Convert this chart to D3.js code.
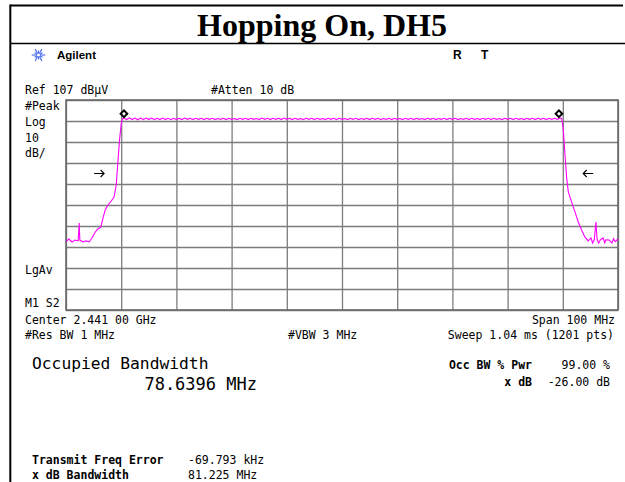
<!DOCTYPE html>
<html>
<head>
<meta charset="utf-8">
<script src="https://cdn.jsdelivr.net/npm/d3@7"></script>
<style>
  body { margin: 0; background: #fff; }
  svg { display: block; }
  .scr { font-family: "DejaVu Sans Mono", monospace; font-size: 11.5px; fill: #000; }
  .bold { font-weight: bold; }
</style>
</head>
<body>
<div id="chart"></div>
<script>
// analyzer settings
var centerMHz = 2441, spanMHz = 100;
var refDb = 107, dbPerDiv = 10, divisions = 10;

// trace: left skirt (MHz, dBuV)
var leftFreq = [2391.0, 2391.5, 2392.1, 2392.6, 2393.2, 2393.4, 2393.5, 2394.1, 2394.6, 2395.2,
  2395.7, 2396.3, 2396.8, 2397.3, 2397.7, 2398.1, 2398.6, 2399.2, 2399.7, 2400.1, 2400.4, 2400.7, 2401.0, 2401.2];
var leftDb = [39.6, 40.8, 39.4, 40.3, 39.9, 48.4, 40.3, 39.4, 39.9, 39.4,
  41.3, 44.1, 45.6, 46.5, 50.8, 54.6, 57.0, 58.9, 60.8, 66.5, 77.5, 88.0, 95.6, 97.9];

// flat top of the hopping band, 0.5 MHz per sample from 2401.5 MHz
var topStart = 2401.5, topStep = 0.5;
var topDb = [
  98.4, 97.7, 98.5, 97.7, 98.4, 97.6, 98.4, 97.7, 98.4, 97.7,
  98.4, 97.7, 98.3, 97.7, 98.4, 97.7, 98.3, 97.6, 98.3, 97.7,
  98.3, 97.7, 98.4, 97.8, 98.3, 97.7, 98.3, 97.8, 98.3, 97.7,
  98.3, 97.8, 98.3, 97.7, 98.2, 97.8, 98.3, 97.7, 98.3, 97.8,
  98.2, 97.7, 98.3, 97.8, 98.3, 97.7, 98.3, 97.8, 98.2, 97.7,
  98.4, 97.8, 98.3, 97.7, 98.3, 97.8, 98.3, 97.7, 98.4, 97.8,
  98.3, 97.7, 98.3, 97.8, 98.2, 97.7, 98.3, 97.8, 98.3, 97.7,
  98.3, 97.8, 98.2, 97.7, 98.3, 97.8, 98.3, 97.7, 98.3, 97.8,
  98.2, 97.7, 98.3, 97.8, 98.3, 97.7, 98.2, 97.8, 98.3, 97.7,
  98.3, 97.8, 98.3, 97.7, 98.2, 97.8, 98.3, 97.7, 98.3, 97.8,
  98.2, 97.7, 98.3, 97.8, 98.3, 97.7, 98.3, 97.8, 98.2, 97.7,
  98.3, 97.8, 98.3, 97.7, 98.2, 97.8, 98.3, 97.7, 98.3, 97.8,
  98.3, 97.7, 98.2, 97.8, 98.3, 97.7, 98.3, 97.8, 98.2, 97.7,
  98.3, 97.8, 98.3, 97.7, 98.3, 97.8, 98.2, 97.7, 98.3, 97.8,
  98.3, 97.7, 98.3, 97.8, 98.2, 97.7, 98.3, 97.8, 98.3, 97.7,
  98.3, 97.8, 98.3, 97.7, 98.3, 97.8, 98.3, 97.8, 98.3];

// right skirt
var rightFreq = [2480.8, 2481.1, 2481.4, 2481.7, 2482.0, 2482.6, 2483.2, 2483.8, 2484.4, 2485.0,
  2485.6, 2486.1, 2486.4, 2486.7, 2487.0, 2487.2, 2487.5, 2487.8, 2488.3, 2488.6, 2488.8, 2489.4, 2489.9, 2490.2, 2490.5, 2491.0];
var rightDb = [98.3, 92.7, 80.8, 69.9, 63.2, 58.4, 53.7, 48.9, 45.1, 41.8,
  39.9, 41.3, 38.9, 40.4, 48.9, 40.8, 38.8, 40.4, 41.3, 39.0, 40.4, 40.3, 38.9, 40.9, 39.6, 40.8];

// markers and x dB arrows
var markerFreq = [2401.5, 2480.3];
var markerDb = [98.3, 98.3];
var xdbFreq = [2397.0, 2485.6];
var xdbLevel = 72;

var width = 625, height = 482;

var svg = d3.select('#chart').append('svg')
  .attr("width", width)
  .attr("height", height);

// page frame + title
svg.append("line").attr("x1", 10).attr("x2", 623).attr("y1", 5.5).attr("y2", 5.5)
  .attr("stroke", "#000").attr("stroke-width", 2);
svg.append("line").attr("x1", 10.3).attr("x2", 10.3).attr("y1", 4.5).attr("y2", height)
  .attr("stroke", "#000").attr("stroke-width", 2);
svg.append("line").attr("x1", 10).attr("x2", 625).attr("y1", 43.5).attr("y2", 43.5)
  .attr("stroke", "#000").attr("stroke-width", 1.5);
svg.append("text")
  .attr("x", 322).attr("y", 36)
  .attr("text-anchor", "middle")
  .style("font-family", "'Liberation Serif', 'Times New Roman', serif")
  .style("font-weight", "bold")
  .style("font-size", "32px")
  .text("Hopping On, DH5");

// agilent spark
var spark = svg.append("g").attr("transform", "translate(38.5,55)");
d3.range(12).forEach(function(i) {
  var a = i * Math.PI / 6, r = i % 2 ? 4.5 : 6.8;
  spark.append("line")
    .attr("x1", Math.cos(a) * 1.5).attr("y1", Math.sin(a) * 1.5)
    .attr("x2", Math.cos(a) * r).attr("y2", Math.sin(a) * r)
    .attr("stroke", "#4466ee").attr("stroke-width", 1.1);
});
svg.append("text").attr("x", 57).attr("y", 59)
  .style("font-family", "'Liberation Sans', Arial, sans-serif")
  .style("font-weight", "bold").style("font-size", "11.5px")
  .text("Agilent");
svg.append("text").attr("x", 453).attr("y", 58.5)
  .style("font-family", "'Liberation Sans', Arial, sans-serif")
  .style("font-weight", "bold").style("font-size", "12px")
  .text("R");
svg.append("text").attr("x", 481).attr("y", 58.5)
  .style("font-family", "'Liberation Sans', Arial, sans-serif")
  .style("font-weight", "bold").style("font-size", "12px")
  .text("T");

// graticule
var gx0 = 66, gx1 = 618, gy0 = 100, gy1 = 310;
var x = d3.scaleLinear()
  .domain([centerMHz - spanMHz / 2, centerMHz + spanMHz / 2])
  .range([gx0, gx1]);
var y = d3.scaleLinear()
  .domain([refDb - dbPerDiv * divisions, refDb])
  .range([gy1, gy0]);

var xGrid = d3.range(divisions + 1).map(function(i) { return x.domain()[0] + i * spanMHz / divisions; });
var yGrid = d3.range(divisions + 1).map(function(i) { return refDb - i * dbPerDiv; });

var grid = svg.append("g").attr("class", "grid");
grid.append("g")
  .attr("transform", "translate(0," + gy1 + ")")
  .call(d3.axisBottom(x).tickValues(xGrid).tickSize(-(gy1 - gy0)).tickFormat(""));
grid.append("g")
  .attr("transform", "translate(" + gx0 + ",0)")
  .call(d3.axisLeft(y).tickValues(yGrid).tickSize(-(gx1 - gx0)).tickFormat(""));
grid.selectAll(".domain").remove();
grid.selectAll(".tick line").attr("stroke", "#7c7c7c").attr("stroke-width", 1.3);
svg.append("rect")
  .attr("x", gx0).attr("y", gy0)
  .attr("width", gx1 - gx0).attr("height", gy1 - gy0)
  .attr("fill", "none").attr("stroke", "#6a6a6a").attr("stroke-width", 1.6);

// trace
var trace = [];
leftFreq.forEach(function(f, i) { trace.push([f, leftDb[i]]); });
topDb.forEach(function(v, i) { trace.push([topStart + i * topStep, v]); });
rightFreq.forEach(function(f, i) { trace.push([f, rightDb[i]]); });

svg.append("path")
  .datum(trace)
  .attr("fill", "none")
  .attr("stroke", "#ff00ff")
  .attr("stroke-width", 1.1)
  .attr("d", d3.line().x(function(d) { return x(d[0]); }).y(function(d) { return y(d[1]); }));

// markers
svg.selectAll(".mk")
  .data(markerFreq)
  .enter().append("path")
    .attr("class", "mk")
    .attr("d", d3.symbol().type(d3.symbolSquare).size(22))
    .attr("transform", function(d, i) { return "translate(" + x(d) + "," + (y(markerDb[i]) - 4.5) + ") rotate(45)"; })
    .attr("fill", "#fff").attr("stroke", "#000").attr("stroke-width", 2);

// x dB arrows, pointing in toward the band
svg.selectAll(".arr")
  .data(xdbFreq)
  .enter().append("path")
    .attr("class", "arr")
    .attr("transform", function(d, i) {
      return "translate(" + x(d) + "," + y(xdbLevel) + ")" + (i === 0 ? "" : " scale(-1,1)");
    })
    .attr("d", "M-5,0H5M1.5,-3.5L5,0L1.5,3.5")
    .attr("fill", "none").attr("stroke", "#000").attr("stroke-width", 1.1);

// screen annotations
function label(tx, ty, str, opts) {
  opts = opts || {};
  var t = svg.append("text").attr("class", "scr" + (opts.bold ? " bold" : ""))
    .attr("x", tx).attr("y", ty).text(str);
  if (opts.anchor) t.attr("text-anchor", opts.anchor);
  if (opts.size) t.style("font-size", opts.size);
  return t;
}

label(25, 94, "Ref 107 dB\u00b5V");
label(211, 94, "#Atten 10 dB");
label(25, 109.5, "#Peak");
label(25, 125.5, "Log");
label(25, 141.5, "10");
label(25, 157, "dB/");
label(25, 274, "LgAv");
label(25, 306.5, "M1  S2");
label(25, 324, "Center 2.441 00 GHz");
label(615, 324, "Span 100 MHz", { anchor: "end" });
label(25, 339, "#Res BW 1 MHz");
label(288, 339, "#VBW 3 MHz");
label(614, 339, "Sweep 1.04 ms (1201 pts)", { anchor: "end" });

label(32, 369, "Occupied Bandwidth", { size: "16.3px" });
label(257, 390, "78.6396 MHz", { anchor: "end", size: "17px" });

label(532, 368.5, "Occ BW % Pwr", { bold: true, anchor: "end" });
label(610, 368.5, "99.00 %", { anchor: "end" });
label(532, 386, "x dB", { bold: true, anchor: "end" });
label(610, 386, "-26.00 dB", { anchor: "end" });

label(32, 463.5, "Transmit Freq Error", { bold: true });
label(188, 463.5, "-69.793 kHz");
label(32, 478.5, "x dB Bandwidth", { bold: true });
label(188, 478.5, "81.225 MHz");
</script>
</body>
</html>
